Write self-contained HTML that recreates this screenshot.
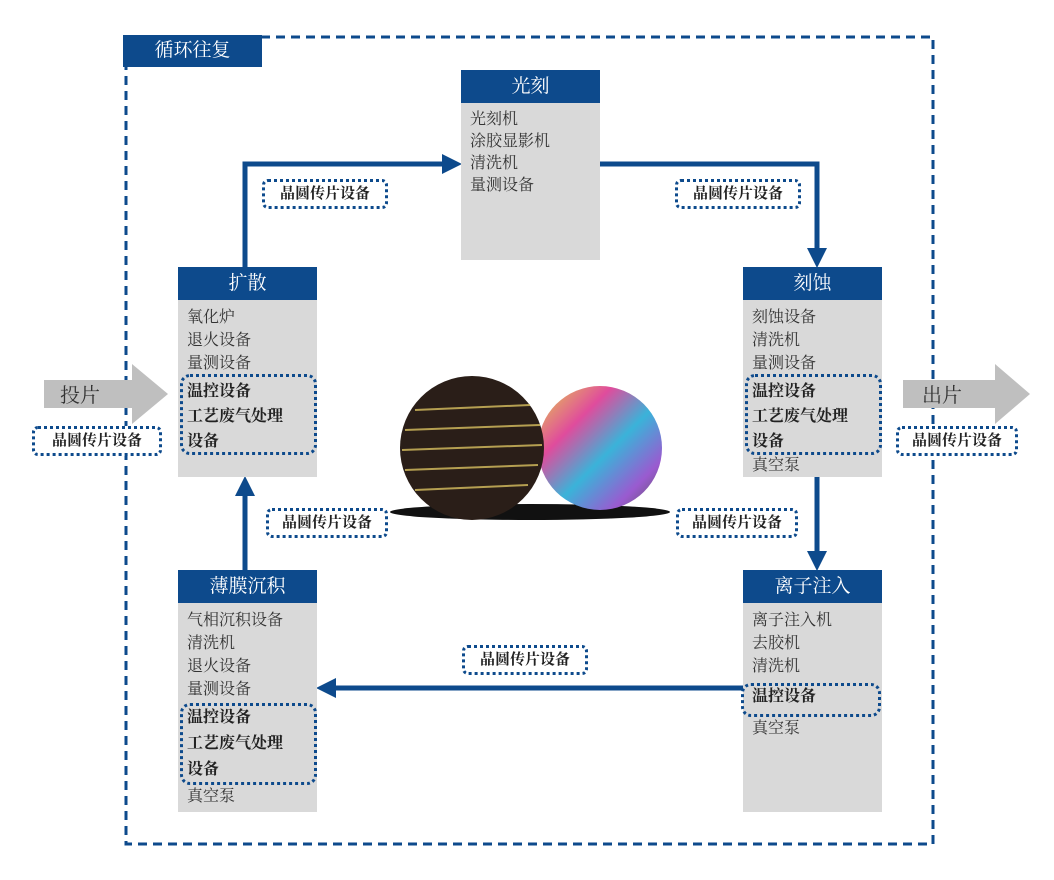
<!DOCTYPE html>
<html><head><meta charset="utf-8"><style>
body{margin:0;width:1054px;height:880px;background:#fff;position:relative;overflow:hidden;font-family:"Liberation Serif","Noto Serif CJK SC","Noto Sans CJK SC",serif;}
.abs{position:absolute}
.box{position:absolute;background:#d9d9d9;}
.hd{background:#0d4a8c;color:#fff;height:33px;line-height:33px;text-align:center;font-size:19px;}
.bd{padding:6px 9px 0;font-size:16px;line-height:23px;color:#333;}
.g{line-height:25px;font-weight:bold;color:#222;}
.dot{position:absolute;border:3px dotted #0d4a8c;border-radius:6px;background:#fff;font-size:15px;font-weight:bold;color:#222;text-align:center;line-height:24px;height:24px;}
.grp{position:absolute;border:3px dotted #0d4a8c;border-radius:10px;}
</style></head><body>
<svg class="abs" style="left:0;top:0" width="1054" height="880">
<rect x="126" y="37" width="807" height="807" fill="none" stroke="#0d4a8c" stroke-width="3" stroke-dasharray="9 6"/>
</svg>
<div class="abs" style="left:123px;top:35px;width:139px;height:32px;background:#0d4a8c;color:#fff;font-size:19px;line-height:32px;text-align:center;">循环往复</div>

<svg class="abs" style="left:0;top:0" width="1054" height="880">
<defs><marker id="a" markerWidth="4" markerHeight="4" refX="2" refY="2" orient="auto"><path d="M0,0L4,2L0,4z" fill="#0d4a8c"/></marker>
<linearGradient id="w2" x1="0" y1="0" x2="1" y2="1"><stop offset="0" stop-color="#e6d24a"/><stop offset=".3" stop-color="#e04c9c"/><stop offset=".55" stop-color="#3ab3d9"/><stop offset=".8" stop-color="#9a5ad0"/><stop offset="1" stop-color="#555"/></linearGradient></defs>
<g stroke="#0d4a8c" stroke-width="5" fill="none">
<polyline points="245,267 245,164 452,164" marker-end="url(#a)"/>
<polyline points="600,164 817,164 817,258" marker-end="url(#a)"/>
<polyline points="817,477 817,561" marker-end="url(#a)"/>
<polyline points="743,688 326,688" marker-end="url(#a)"/>
<polyline points="245,570 245,486" marker-end="url(#a)"/>
</g>
<polygon points="44,380 132,380 132,364 168,394 132,424 132,408 44,408" fill="#bfbfbf"/>
<polygon points="903,380 995,380 995,364 1030,394 995,424 995,408 903,408" fill="#bfbfbf"/>
<ellipse cx="530" cy="512" rx="140" ry="8" fill="#111"/>
<circle cx="600" cy="448" r="62" fill="url(#w2)"/>
<circle cx="472" cy="448" r="72" fill="#2a1e18"/>
<g stroke="#d8c060" stroke-width="2" opacity=".8"><line x1="415" y1="410" x2="530" y2="405"/><line x1="405" y1="430" x2="540" y2="425"/><line x1="402" y1="450" x2="542" y2="445"/><line x1="405" y1="470" x2="538" y2="465"/><line x1="415" y1="490" x2="528" y2="485"/></g>
<text x="80" y="402" font-size="20" fill="#333" font-family="Liberation Serif,Noto Serif CJK SC,serif" text-anchor="middle">投片</text>
<text x="942" y="402" font-size="20" fill="#333" font-family="Liberation Serif,Noto Serif CJK SC,serif" text-anchor="middle">出片</text>
</svg>

<div class="box" style="left:461px;top:70px;width:139px;height:190px"><div class="hd">光刻</div><div class="bd" style="padding-top:6px;line-height:22px">光刻机<br>涂胶显影机<br>清洗机<br>量测设备</div></div>
<div class="box" style="left:178px;top:267px;width:139px;height:210px"><div class="hd">扩散</div><div class="bd">氧化炉<br>退火设备<br>量测设备<div class="g" style="margin-top:4px">温控设备<br>工艺废气处理<br>设备</div></div></div>
<div class="box" style="left:743px;top:267px;width:139px;height:210px"><div class="hd">刻蚀</div><div class="bd">刻蚀设备<br>清洗机<br>量测设备<div class="g" style="margin-top:4px">温控设备<br>工艺废气处理<br>设备</div>真空泵</div></div>
<div class="box" style="left:178px;top:570px;width:139px;height:242px"><div class="hd">薄膜沉积</div><div class="bd">气相沉积设备<br>清洗机<br>退火设备<br>量测设备<div class="g" style="margin-top:4px;line-height:26px">温控设备<br>工艺废气处理<br>设备</div><div style="margin-top:2px">真空泵</div></div></div>
<div class="box" style="left:743px;top:570px;width:139px;height:242px"><div class="hd">离子注入</div><div class="bd">离子注入机<br>去胶机<br>清洗机<div class="g" style="margin-top:6px">温控设备</div><div style="margin-top:8px">真空泵</div></div></div>

<div class="grp" style="left:180px;top:374px;width:131px;height:75px"></div>
<div class="grp" style="left:745px;top:374px;width:131px;height:75px"></div>
<div class="grp" style="left:180px;top:703px;width:131px;height:76px"></div>
<div class="grp" style="left:741px;top:683px;width:134px;height:28px"></div>

<div class="dot" style="left:262px;top:179px;width:120px">晶圆传片设备</div>
<div class="dot" style="left:675px;top:179px;width:120px">晶圆传片设备</div>
<div class="dot" style="left:32px;top:426px;width:124px">晶圆传片设备</div>
<div class="dot" style="left:896px;top:426px;width:116px">晶圆传片设备</div>
<div class="dot" style="left:266px;top:508px;width:116px">晶圆传片设备</div>
<div class="dot" style="left:676px;top:508px;width:116px">晶圆传片设备</div>
<div class="dot" style="left:462px;top:645px;width:120px">晶圆传片设备</div>
</body></html>
